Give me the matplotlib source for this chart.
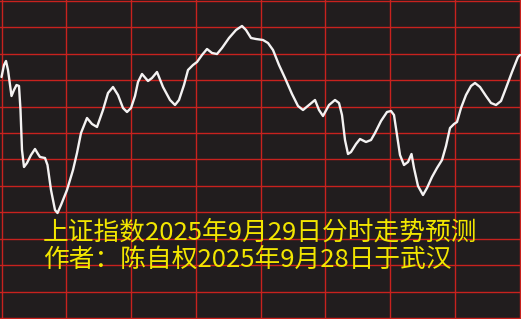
import numpy as np
from matplotlib import pyplot as plt

plt.rcParams['font.family'] = ['Noto Sans CJK SC', 'DejaVu Sans']

# intraday path (time step, level)
t = [1.5, 4, 6, 8, 11.5, 14, 16.5, 19, 20.5, 22, 24, 27, 31, 35, 38, 40, 45, 47.5,
     51, 55, 57.5, 61, 67, 73, 77, 81, 87, 92, 97, 103, 108, 113, 118, 123, 127,
     131, 135, 138, 142, 148, 152, 157, 163, 170, 175, 179, 184, 188, 193, 197,
     202, 207, 212, 217, 222, 229, 236, 242, 246, 251, 256, 263, 268, 273, 279,
     285, 292, 298, 303, 309, 315, 319, 323, 329, 335, 339, 342, 345, 348, 351,
     356, 360, 366, 371, 375, 381, 387, 391, 394, 397, 400, 404, 408, 411.5, 414,
     418, 423, 427, 432, 437, 442, 446, 450, 454, 457, 461, 466, 471, 475, 480,
     486, 491, 496, 501, 506, 512, 518, 520]
level = [242, 254, 258, 249, 223, 229, 234, 233, 209, 169, 152, 156, 164, 170, 165,
         162, 161, 154, 129, 109, 106, 114, 129, 149, 166, 186, 201, 195, 192, 209,
         226, 232, 224, 211, 207, 211, 223, 237, 245, 238, 241, 247, 232, 219, 214,
         219, 234, 249, 254, 257, 264, 270, 266, 265, 271, 281, 289, 293, 289, 281,
         280, 279, 276, 269, 254, 241, 225, 213, 209, 214, 219, 209, 203, 214, 219,
         216, 204, 179, 165, 167, 175, 180, 177, 179, 186, 198, 207, 208, 204, 184,
         164, 154, 157, 165, 151, 133, 124, 131, 142, 151, 159, 173, 191, 195, 197,
         211, 224, 233, 236, 232, 223, 216, 214, 218, 231, 247, 262, 264]

title_line = '上证指数2025年9月29日分时走势预测'
author_line = '作者：陈自权2025年9月28日于武汉'

fig = plt.figure(figsize=(5.21, 3.19), dpi=100)
fig.patch.set_facecolor('#211d1e')
ax = fig.add_axes([0, 0, 1, 1])
ax.set_facecolor('#211d1e')
ax.set_xlim(0, 521)
ax.set_ylim(0, 319)
ax.axis('off')

# red grid: 8 columns, 12 rows
for gx in np.linspace(1.5, 519.8, 9):
    ax.axvline(gx, color='#c8221e', lw=1.0, zorder=1)
for gy in np.linspace(0.7, 318.4, 13):
    ax.axhline(gy, color='#c8221e', lw=1.0, zorder=1)

ax.plot(t, level, color='#f4f2f2', lw=1.7, solid_joinstyle='round',
        solid_capstyle='round', zorder=3)

ax.text(43, 86, title_line, color='#f2e600', fontsize=18.5, va='center',
        ha='left', zorder=4)
ax.text(43, 59, author_line, color='#f2e600', fontsize=18.5, va='center',
        ha='left', zorder=4)

fig.savefig('out.png', dpi=100, facecolor=fig.get_facecolor())
